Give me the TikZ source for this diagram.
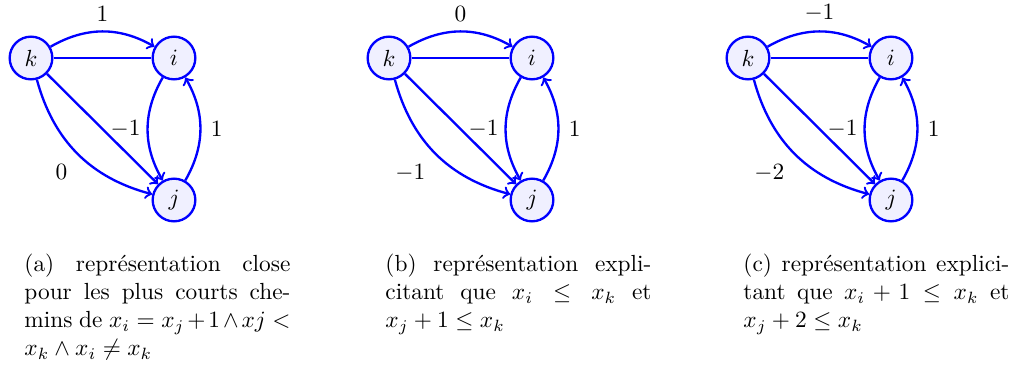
\documentclass[tikz,border=0pt]{standalone}
\tikzset{
  vtx/.style={circle, draw=blue, fill=blue!6, line width=1pt, minimum size=18.3pt, inner sep=0pt},
  edg/.style={->, draw=blue, line width=1pt},
  pln/.style={draw=blue, line width=1pt},
  lbl/.style={inner sep=4pt},
  dlbl/.style={inner sep=3pt},
  captxt/.style={anchor=base west, inner sep=0pt}
}
\newcommand\drawgraph[6]{%
  \node[vtx] (k#1) at ({#2+31},58) {$k$};
  \node[vtx] (i#1) at ({#2+174},58) {$i$};
  \node[vtx] (j#1) at ({#2+174},200) {$j$};
  \draw[edg] (k#1) to[bend left=30] node[lbl, above] {$#3$} (i#1);
  \draw[pln] (k#1) -- (i#1);
  \draw[edg] (k#1) to[bend right=30] node[lbl, below left] {$#4$} (j#1);
  \draw[edg] (k#1) -- node[dlbl, right] {$#5$} (j#1);
  \draw[edg] (i#1) to[bend right=30] (j#1);
  \draw[edg] (j#1) to[bend right=30] node[lbl, right] {$#6$} (i#1);
}
\newcommand\capline[1]{\hbox to\linewidth{#1}}
\newcommand\capbox[1]{\parbox[t]{114pt}{\baselineskip=12pt\lineskiplimit=-10pt #1}}
\begin{document}
\begin{tikzpicture}[x=0.4286pt, y=-0.4286pt]
  \useasboundingbox (0,0) rectangle (1019,370);
  \drawgraph{a}{0}{1}{0}{-1}{1}
  \drawgraph{b}{358}{0}{-1}{-1}{1}
  \drawgraph{c}{717}{-1}{-2}{-1}{1}
  \node[captxt] (capa) at (24,272) {\capbox{%
    \capline{(a) représentation close}%
    \capline{pour les plus courts che-}%
    \capline{mins de $x_i = x_j+1\wedge xj <$}%
    \hbox{$x_k \wedge x_i \neq x_k$}}};
  \node[captxt] (capb) at (385,272) {\capbox{%
    \capline{(b) représentation expli-}%
    \capline{citant que $x_i \leq x_k$ et}%
    \hbox{$x_j + 1 \leq x_k$}}};
  \node[captxt] (capc) at (743,272) {\capbox{%
    \capline{(c) représentation explici-}%
    \capline{tant que $x_i + 1 \leq x_k$ et}%
    \hbox{$x_j + 2 \leq x_k$}}};
\end{tikzpicture}
\end{document}
